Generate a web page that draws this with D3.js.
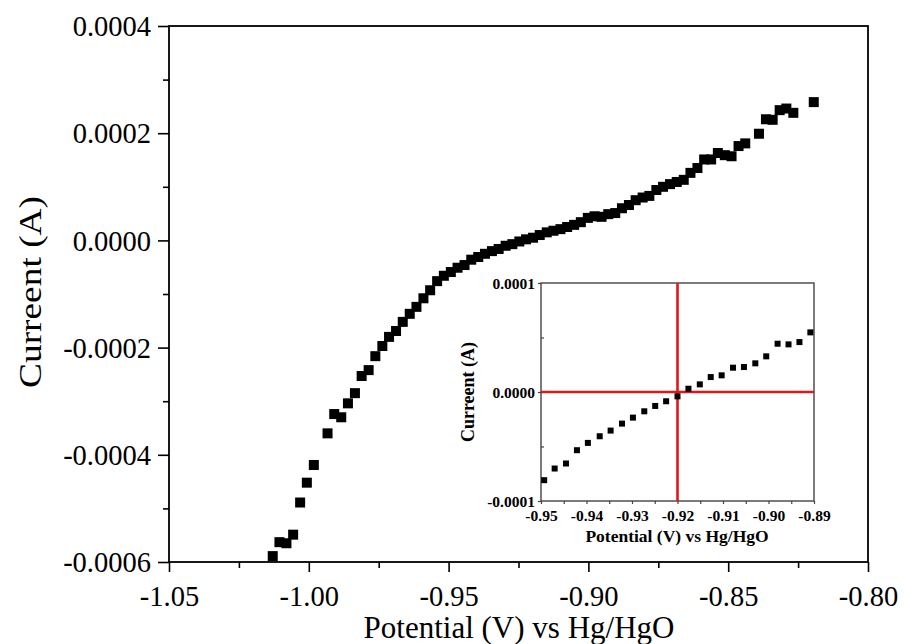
<!DOCTYPE html>
<meta charset="utf-8">
<script src="https://d3js.org/d3.v7.min.js"></script>
<style>
  body { margin: 0; background: #fff; }
  text { font-family: "Liberation Serif", "Times New Roman", serif; fill: #000; }
</style>
<body></body>
<script type="text/javascript">

// main curve : potential (V) and current (units of 1e-4 A)
var potential = [-1.0129, -1.0105, -1.0080, -1.0056, -1.0031, -1.0007, -0.9982,
  -0.9933, -0.9909, -0.9884, -0.9860, -0.9835, -0.9811, -0.9786, -0.9762, -0.9737,
  -0.9713, -0.9688, -0.9664, -0.9639, -0.9615, -0.9590, -0.9566, -0.9541, -0.9517,
  -0.9492, -0.9468, -0.9443, -0.9419, -0.9394, -0.9370, -0.9345, -0.9321, -0.9296,
  -0.9272, -0.9247, -0.9223, -0.9198, -0.9174, -0.9149, -0.9125, -0.9100, -0.9076,
  -0.9051, -0.9027, -0.9002, -0.8978, -0.8953, -0.8929, -0.8904, -0.8880, -0.8855,
  -0.8831, -0.8806, -0.8782, -0.8757, -0.8733, -0.8708, -0.8684, -0.8659, -0.8635,
  -0.8610, -0.8586, -0.8561, -0.8537, -0.8512, -0.8488, -0.8463, -0.8439, -0.8390,
  -0.8365, -0.8341, -0.8316, -0.8292, -0.8267, -0.8194];
var current = [-5.89, -5.63, -5.65, -5.49, -4.89, -4.52, -4.19,
  -3.60, -3.24, -3.30, -3.04, -2.85, -2.53, -2.42, -2.16, -1.97,
  -1.80, -1.69, -1.52, -1.37, -1.24, -1.08, -0.93, -0.76, -0.66,
  -0.59, -0.51, -0.46, -0.36, -0.31, -0.25, -0.20, -0.16, -0.10,
  -0.07, -0.02, 0.02, 0.05, 0.10, 0.15, 0.18, 0.21, 0.25,
  0.29, 0.34, 0.42, 0.45, 0.44, 0.49, 0.51, 0.60, 0.66,
  0.75, 0.80, 0.83, 0.94, 1.00, 1.05, 1.09, 1.13, 1.26,
  1.35, 1.51, 1.51, 1.63, 1.59, 1.57, 1.76, 1.81, 1.99,
  2.26, 2.25, 2.43, 2.46, 2.38, 2.58];

// inset (zoom around zero crossing), current in units of 1e-4 A
var insetPotential = [-0.9493, -0.9470, -0.9445, -0.9421, -0.9397, -0.9371, -0.9347,
  -0.9322, -0.9298, -0.9273, -0.9249, -0.9225, -0.9200, -0.9176, -0.9151, -0.9127,
  -0.9103, -0.9078, -0.9054, -0.9029, -0.9005, -0.8980, -0.8956, -0.8932, -0.8908];
var insetCurrent = [-0.809, -0.702, -0.656, -0.534, -0.467, -0.406, -0.354,
  -0.290, -0.235, -0.177, -0.128, -0.085, -0.040, 0.030, 0.070, 0.137,
  0.153, 0.223, 0.229, 0.263, 0.327, 0.443, 0.437, 0.458, 0.547];

var xTicks = [-1.05, -1.00, -0.95, -0.90, -0.85, -0.80];
var yTicks = [-0.0006, -0.0004, -0.0002, 0.0000, 0.0002, 0.0004];
var insetXTicks = [-0.95, -0.94, -0.93, -0.92, -0.91, -0.90, -0.89];
var insetYTicks = [-0.0001, 0.0000, 0.0001];
var crossV = -0.92, crossI = 0;

var width = 904, height = 644;

// plain hyphen instead of the unicode minus d3 puts in
function fmt(spec) {
  var f = d3.format(spec);
  return function(d) { return f(d).replace("\u2212", "-"); };
}

var svg = d3.select("body").append("svg")
    .attr("width", width)
    .attr("height", height);

svg.append("rect").attr("width", width).attr("height", height).attr("fill", "#fff");

// ---- main plot ----
var x = d3.scaleLinear().domain([-1.05, -0.80]).range([169, 868]);
var y = d3.scaleLinear().domain([-0.0006, 0.0004]).range([562, 26]);

var data = potential.map(function(p, i) { return {x: p, y: current[i] * 1e-4}; });

var xAxis = d3.axisBottom(x).tickValues(xTicks).tickSize(10).tickPadding(7)
    .tickFormat(fmt(".2f"));
var yAxis = d3.axisLeft(y).tickValues(yTicks).tickSize(11).tickPadding(7)
    .tickFormat(fmt(".4f"));

// minor ticks
var xMinor = d3.axisBottom(x).tickValues([-1.025, -0.975, -0.925, -0.875, -0.825])
    .tickSize(6).tickFormat("");
var yMinor = d3.axisLeft(y).tickValues([-0.0005, -0.0003, -0.0001, 0.0001, 0.0003])
    .tickSize(6).tickFormat("");

svg.append("g").attr("transform", "translate(0,562)").call(xMinor)
    .call(function(g) { g.select(".domain").remove(); g.selectAll("line").attr("stroke-width", 1.6); });
svg.append("g").attr("transform", "translate(169,0)").call(yMinor)
    .call(function(g) { g.select(".domain").remove(); g.selectAll("line").attr("stroke-width", 1.6); });

var gx = svg.append("g").attr("transform", "translate(0,562)").call(xAxis);
var gy = svg.append("g").attr("transform", "translate(169,0)").call(yAxis);
[gx, gy].forEach(function(g) {
  g.select(".domain").remove();
  g.selectAll("line").attr("stroke-width", 1.6);
  g.selectAll("text").style("font-size", "28.5px").attr("font-family", null);
});
gx.selectAll("text").attr("dy", "0.95em");
gy.selectAll("text").attr("dy", "0.34em");

// frame
svg.append("rect")
    .attr("x", 169).attr("y", 26).attr("width", 699).attr("height", 536)
    .attr("fill", "none").attr("stroke", "#000").attr("stroke-width", 1.8);

svg.append("g").selectAll("rect").data(data).enter().append("rect")
    .attr("x", function(d) { return x(d.x) - 5; })
    .attr("y", function(d) { return y(d.y) - 5; })
    .attr("width", 10).attr("height", 10)
    .attr("fill", "#000");

svg.append("text")
    .attr("x", 519).attr("y", 638)
    .attr("text-anchor", "middle")
    .style("font-size", "31px")
    .text("Potential (V) vs Hg/HgO");

svg.append("text")
    .attr("transform", "translate(41,292) rotate(-90)")
    .attr("text-anchor", "middle")
    .attr("textLength", 192).attr("lengthAdjust", "spacingAndGlyphs")
    .style("font-size", "32px")
    .text("Curreent (A)");

// ---- inset ----
var ix = d3.scaleLinear().domain([-0.95, -0.89]).range([541, 814]);
var iy = d3.scaleLinear().domain([-0.0001, 0.0001]).range([501, 283]);
var inset = svg.append("g");

inset.append("rect")
    .attr("x", 541).attr("y", 283).attr("width", 273).attr("height", 218)
    .attr("fill", "#fff");

var insetData = insetPotential.map(function(p, i) { return {x: p, y: insetCurrent[i] * 1e-4}; });

var ixAxis = d3.axisBottom(ix).tickValues(insetXTicks).tickSize(3).tickPadding(6)
    .tickFormat(fmt(".2f"));
var iyAxis = d3.axisLeft(iy).tickValues(insetYTicks).tickSize(3).tickPadding(3)
    .tickFormat(fmt(".4f"));
var ixMinor = d3.axisBottom(ix).tickValues([-0.945, -0.935, -0.925, -0.915, -0.905, -0.895])
    .tickSize(3).tickFormat("");
var iyMinor = d3.axisRight(iy).tickValues([-0.00005, 0.00005]).tickSize(3).tickFormat("");

inset.append("g").attr("transform", "translate(0,501)").call(ixMinor);
inset.append("g").attr("transform", "translate(541,0)").call(iyMinor);
var igx = inset.append("g").attr("transform", "translate(0,501)").call(ixAxis);
var igy = inset.append("g").attr("transform", "translate(541,0)").call(iyAxis);
inset.selectAll("g").call(function(g) {
  g.selectAll(".domain").remove();
  g.selectAll("line").attr("stroke", "#444").attr("stroke-width", 1.2);
  g.selectAll("text").style("font-size", "15.5px").style("font-weight", "bold")
    .attr("font-family", null);
});
igx.selectAll("text").attr("dy", "0.72em");
igy.selectAll("text").attr("dy", "0.34em");

inset.append("rect")
    .attr("x", 541).attr("y", 283).attr("width", 273).attr("height", 218)
    .attr("fill", "none").attr("stroke", "#444").attr("stroke-width", 1.4);

// red cross at the zero-current potential
inset.append("line")
    .attr("x1", ix(crossV)).attr("x2", ix(crossV))
    .attr("y1", iy(0.0001)).attr("y2", iy(-0.0001))
    .attr("stroke", "#e3141c").attr("stroke-width", 2.6);
inset.append("line")
    .attr("x1", ix(-0.95)).attr("x2", ix(-0.89))
    .attr("y1", iy(crossI)).attr("y2", iy(crossI))
    .attr("stroke", "#e3141c").attr("stroke-width", 2.6);

inset.append("g").selectAll("rect").data(insetData).enter().append("rect")
    .attr("x", function(d) { return ix(d.x) - 3; })
    .attr("y", function(d) { return iy(d.y) - 3; })
    .attr("width", 6).attr("height", 6)
    .attr("fill", "#000");

inset.append("text")
    .attr("x", 677).attr("y", 542)
    .attr("text-anchor", "middle")
    .style("font-size", "17.5px").style("font-weight", "bold")
    .text("Potential (V) vs Hg/HgO");

inset.append("text")
    .attr("transform", "translate(474,392) rotate(-90)")
    .attr("text-anchor", "middle")
    .style("font-size", "18px").style("font-weight", "bold")
    .text("Curreent (A)");

</script>
